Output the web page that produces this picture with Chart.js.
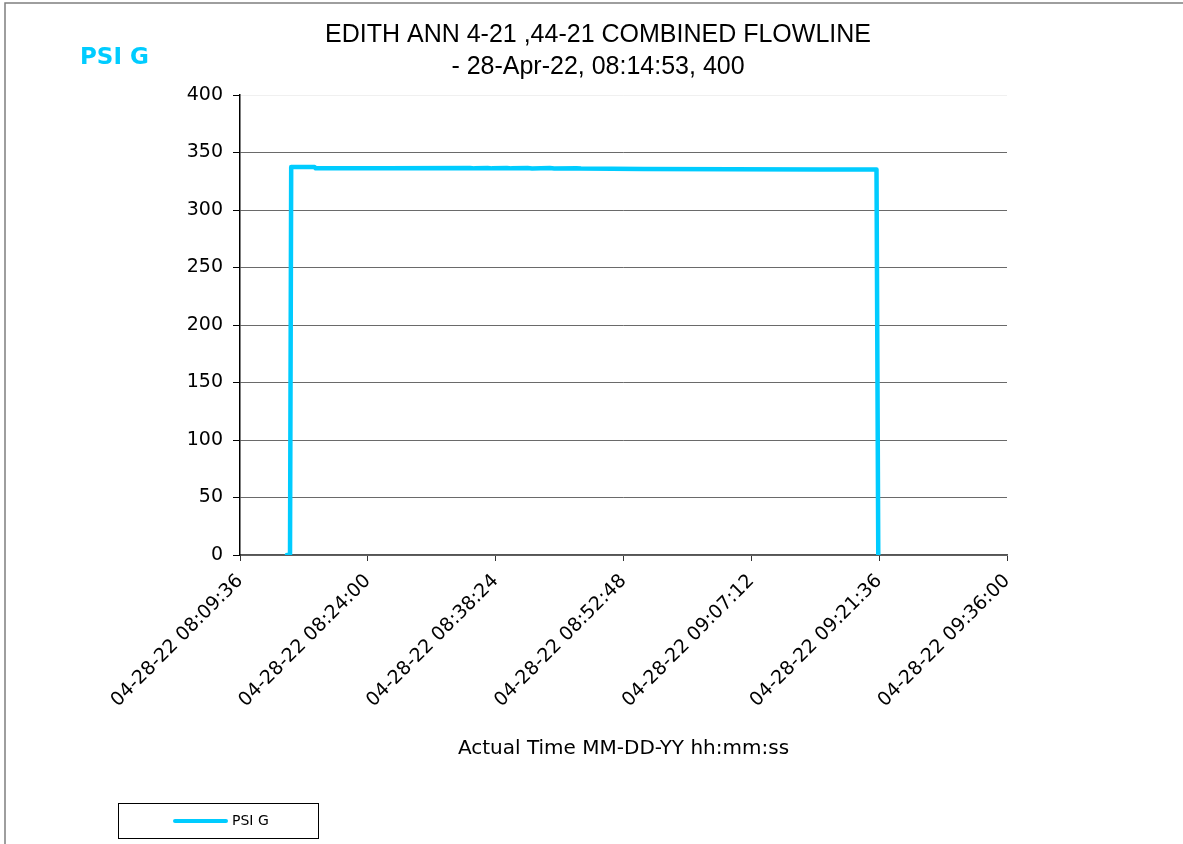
<!DOCTYPE html>
<html>
<head>
<meta charset="utf-8">
<script src="https://cdn.jsdelivr.net/npm/chart.js@4.4.1/dist/chart.umd.min.js"></script>
<style>
  html, body { margin: 0; padding: 0; background: #ffffff; }
  #wrap { position: relative; width: 1183px; height: 844px; }
</style>
</head>
<body>
<div id="wrap"><canvas id="c" width="1183" height="844"></canvas></div>
<script>
// ---- data ----
const datePrefix = '04-28-22';
const times = ['08:14:53', '08:15:14', '08:15:22', '08:18:00', '08:18:08', '08:26:00', '08:35:30', '08:36:00', '08:37:30', '08:38:00', '08:39:40', '08:40:10', '08:42:00', '08:42:30', '08:44:30', '08:45:00', '08:47:30', '08:48:00', '08:55:00', '09:05:00', '09:15:00', '09:21:18', '09:21:30'];
const psi = [0, 0, 337.4, 337.3, 336.2, 336.2, 336.6, 336.2, 336.6, 336.2, 336.6, 336.2, 336.5, 336.1, 336.5, 336.1, 336.4, 336.0, 335.7, 335.5, 335.3, 335.2, 0];
const xTickStart = '08:09:36';
const xTickEnd = '09:36:00';
const xTickStepSeconds = 864;
const yTicks = [0, 50, 100, 150, 200, 250, 300, 350, 400];
const titleLines = ['EDITH ANN 4-21 ,44-21 COMBINED FLOWLINE', '- 28-Apr-22, 08:14:53, 400'];
const seriesName = 'PSI G';
const yLabel = 'PSI G';
const xLabel = 'Actual Time MM-DD-YY hh:mm:ss';

// ---- helpers ----
function toSec(t) { const p = t.split(':').map(Number); return p[0] * 3600 + p[1] * 60 + p[2]; }
function pad(n) { return String(n).padStart(2, '0'); }
function fmt(s) {
  const h = Math.floor(s / 3600), m = Math.floor((s % 3600) / 60), sec = Math.round(s % 60);
  return datePrefix + ' ' + pad(h) + ':' + pad(m) + ':' + pad(sec);
}
const points = times.map((t, i) => ({ x: toSec(t), y: psi[i] }));
const CYAN = '#00CCFF';
const FONT = "'DejaVu Sans', 'Liberation Sans', Arial, sans-serif";
const TFONT = "'Liberation Sans', Arial, sans-serif";

const decorPlugin = {
  id: 'decor',
  afterDraw(chart) {
    const ctx = chart.ctx;
    ctx.save();
    // outer frame (top and left)
    ctx.strokeStyle = '#7f7f7f';
    ctx.lineWidth = 1.5;
    ctx.beginPath();
    ctx.moveTo(5, 844); ctx.lineTo(5, 3); ctx.lineTo(1183, 3);
    ctx.stroke();
    // title
    ctx.fillStyle = '#000';
    ctx.textAlign = 'center';
    ctx.textBaseline = 'middle';
    ctx.font = '25px ' + TFONT;
    ctx.fillText(titleLines[0], 598, 35);
    ctx.fillText(titleLines[1], 598, 67);
    // y axis label
    ctx.fillStyle = CYAN;
    ctx.textAlign = 'left';
    ctx.font = 'bold 23px ' + FONT;
    ctx.fillText(yLabel, 80, 58);
    // legend box
    ctx.strokeStyle = '#000';
    ctx.lineWidth = 1;
    ctx.strokeRect(118.5, 803.5, 200, 35);
    ctx.strokeStyle = CYAN;
    ctx.lineWidth = 4;
    ctx.lineCap = 'round';
    ctx.beginPath();
    ctx.moveTo(175, 821); ctx.lineTo(226, 821);
    ctx.stroke();
    ctx.fillStyle = '#000';
    ctx.font = '14px ' + FONT;
    ctx.fillText(seriesName, 232, 821);
    ctx.restore();
  }
};

new Chart(document.getElementById('c'), {
  type: 'line',
  data: {
    datasets: [{
      label: seriesName,
      data: points,
      borderColor: CYAN,
      backgroundColor: CYAN,
      borderWidth: 4.5,
      pointRadius: 0,
      tension: 0,
      borderJoinStyle: 'round',
      borderCapStyle: 'round',
      fill: false
    }]
  },
  options: {
    responsive: false,
    animation: false,
    devicePixelRatio: 1,
    layout: { padding: { left: 0, right: 176, top: 95, bottom: 79 } },
    plugins: {
      legend: { display: false },
      title: { display: false },
      tooltip: { enabled: false }
    },
    scales: {
      x: {
        type: 'linear',
        min: toSec(xTickStart),
        max: toSec(xTickEnd),
        afterFit(scale) { scale.height = 210; },
        ticks: {
          stepSize: xTickStepSeconds,
          minRotation: 45,
          maxRotation: 45,
          padding: 9,
          color: '#000',
          font: { family: FONT, size: 19 },
          callback: (v) => fmt(v)
        },
        grid: { drawOnChartArea: false, drawTicks: true, tickLength: 6, tickColor: '#333' },
        border: { color: '#555', width: 1.5 },
        title: {
          display: true,
          text: xLabel,
          color: '#000',
          font: { family: FONT, size: 20 },
          padding: { top: 0, bottom: 4 }
        }
      },
      y: {
        min: 0,
        max: 400,
        afterFit(scale) { scale.width = 240; },
        afterBuildTicks(scale) { scale.ticks = yTicks.map(v => ({ value: v })); },
        ticks: {
          color: '#000',
          padding: 10,
          font: { family: FONT, size: 19 }
        },
        grid: {
          color: (c) => (c.tick && c.tick.value === 400) ? 'rgba(0,0,0,0.06)' : '#6a6a6a',
          tickColor: '#000',
          tickLength: 7,
          lineWidth: 1
        },
        border: { color: '#000', width: 1.5 }
      }
    }
  },
  plugins: [decorPlugin]
});
</script>
</body>
</html>
